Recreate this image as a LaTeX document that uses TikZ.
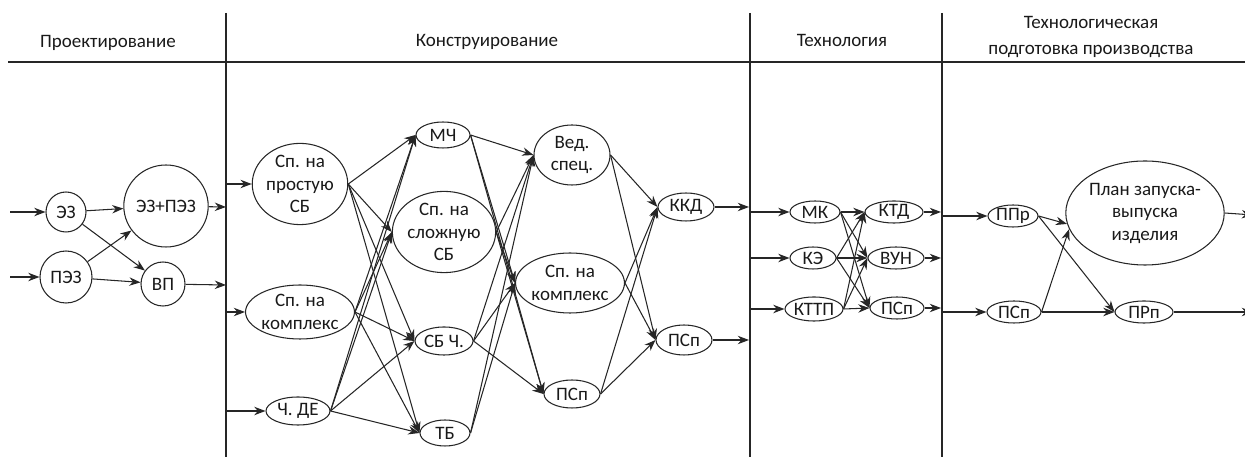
\documentclass[tikz,border=0pt]{standalone}
\usepackage{fontspec}
\setmainfont{Carlito}
\usetikzlibrary{arrows.meta,shapes.geometric}

\begin{document}
\begin{tikzpicture}[x=0.025cm,y=-0.025cm,color=black!85,line width=0.75pt,
	>={Stealth[length=8pt,width=6pt]},
	every node/.style={text=black!90,font=\fontsize{13.5}{16}\selectfont,align=center,inner sep=0pt},
	el/.style 2 args={draw,ellipse,minimum width=#1*0.025cm,minimum height=#2*0.025cm}]
	\useasboundingbox (0,0) rectangle (1245,457);
	
	% grid
	\draw (8,62) -- (1245,62);
	\draw (226,13) -- (226,457);
	\draw (750,13) -- (750,457);
	\draw (942,13) -- (942,457);
	
	\node (h1) at (108,43) {Проектирование};
	\node (h2) at (487,42) {Конструирование};
	\node (h3) at (842,40) {Технология};
	\node[font=\fontsize{13.5}{18.5}\selectfont] (h4) at (1091,37) {Технологическая\\подготовка производства};
	
	% Проектирование
	\coordinate (i11) at (10,212);
	\coordinate (i12) at (10,277);
	\coordinate (o11) at (226,207);
	\coordinate (o12) at (226,285);
	\node[el={40}{40}] (ez) at (66,212) {ЭЗ};
	\node[el={52}{52}] (pez) at (66,277) {ПЭЗ};
	\node[el={82}{82}] (ezpez) at (166,206) {ЭЗ+ПЭЗ};
	\node[el={44}{44}] (vp) at (163,284) {ВП};
	
	\path[->] 	(i11) edge (ez)
	(i12) edge (pez)
	(ez) edge (ezpez)
	(ez) edge (vp)
	(pez) edge (ezpez)
	(pez) edge (vp)
	(ezpez) edge (o11)
	(vp) edge (o12);
	
	% Конструирование
	\coordinate (i21) at (226,184);
	\coordinate (i22) at (226,312);
	\coordinate (i23) at (226,411);
	\coordinate (o21) at (749,207);
	\coordinate (o22) at (749,340);
	\node[el={86}{62}] (spsb) at (300,184) {Сп. на\\простую\\СБ};
	\node[el={96}{54}] (spk) at (300,312) {Сп. на\\комплекс};
	\node[el={64}{28}] (chde) at (298,411) {Ч. ДЕ};
	\node[el={54}{26}] (mch) at (443,135) {МЧ};
	\node[el={86}{72}] (sslsb) at (444,232) {Сп. на\\сложную\\СБ};
	\node[el={58}{28}] (sbch) at (444,341) {СБ Ч.};
	\node[el={50}{26}] (tb) at (445,433) {ТБ};
	\node[el={76}{60}] (ved) at (572,155) {Вед.\\спец.};
	\node[el={94}{60}] (spk2) at (570,283) {Сп. на\\комплекс};
	\node[el={56}{28}] (psp2) at (572,394) {ПСп};
	\node[el={56}{28}] (kkd) at (686,207) {ККД};
	\node[el={56}{30}] (psp3) at (684,340) {ПСп};
	
	\path[->] 	(i21) edge (spsb.west)
	(i22) edge (spk.west)
	(i23) edge (chde.west)
	(spsb.east) edge (mch.west)
	(spsb.east) edge (sslsb.west)
	(spsb.east) edge (sbch.west)
	(spsb.east) edge (tb.west)
	(spk.east) edge (mch.west)
	(spk.east) edge (sslsb.west)
	(spk.east) edge (sbch.west)
	(spk.east) edge (tb.west)
	(chde.east) edge (mch.west)
	(chde.east) edge (sslsb.west)
	(chde.east) edge (sbch.west)
	(chde.east) edge (tb.west)
	(mch.east) edge (ved.west)
	(mch.east) edge (spk2.west)
	(mch.east) edge (psp2.west)
	(sslsb.east) edge (ved.west)
	(sslsb.east) edge (spk2.west)
	(sslsb.east) edge (psp2.west)
	(sbch.east) edge (ved.west)
	(sbch.east) edge (spk2.west)
	(sbch.east) edge (psp2.west)
	(tb.east) edge (ved.west)
	(tb.east) edge (spk2.west)
	(ved.east) edge (kkd.west)
	(ved.east) edge (psp3.west)
	(spk2.east) edge (kkd.west)
	(spk2.east) edge (psp3.west)
	(psp2.east) edge (kkd.west)
	(psp2.east) edge (psp3.west)
	(kkd.east) edge (o21)
	(psp3.east) edge (o22);
	
	% Технология
	\coordinate (i31) at (750,212);
	\coordinate (i32) at (750,258);
	\coordinate (i33) at (750,309);
	\coordinate (o31) at (941,212);
	\coordinate (o32) at (941,258);
	\coordinate (o33) at (941,308);
	\node[el={50}{22}] (mk) at (815,212) {МК};
	\node[el={46}{22}] (ke) at (813,258) {КЭ};
	\node[el={58}{24}] (kttp) at (814,309) {КТТП};
	\node[el={58}{22}] (ktd) at (894,212) {КТД};
	\node[el={56}{22}] (vun) at (896,258) {ВУН};
	\node[el={54}{22}] (psp4) at (897,308) {ПСп};
	
	\path[->] 	(i31) edge (mk.west)
	(i32) edge (ke.west)
	(i33) edge (kttp.west)
	(mk.east) edge (ktd.west)
	(mk.east) edge (vun.west)
	(mk.east) edge (psp4.west)
	(ke.east) edge (ktd.west)
	(ke.east) edge (vun.west)
	(ke.east) edge (psp4.west)
	(kttp.east) edge (ktd.west)
	(kttp.east) edge (vun.west)
	(kttp.east) edge (psp4.west)
	(ktd.east) edge (o31)
	(vun.east) edge (o32)
	(psp4.east) edge (o33);
	
	% Технологическая подготовка производства
	\coordinate (i41) at (942,216);
	\coordinate (i42) at (942,312);
	\coordinate (o41) at (1253,215);
	\coordinate (o42) at (1253,312);
	\node[el={50}{22}] (ppr) at (1013,216) {ППр};
	\node[el={54}{22}] (psp5) at (1014,312) {ПСп};
	\node[el={144}{104}] (plan) at (1145,213) {План запуска-\\выпуска\\изделия};
	\node[el={58}{22}] (prp) at (1144,312) {ПРп};
	
	\path[->] 	(i41) edge (ppr.west)
	(i42) edge (psp5.west)
	(ppr.east) edge (plan.188)
	(ppr.east) edge (prp.west)
	(psp5.east) edge (plan.192)
	(psp5.east) edge (prp.west)
	(plan.east) edge (o41)
	(prp.east) edge (o42);
\end{tikzpicture}
\end{document}
